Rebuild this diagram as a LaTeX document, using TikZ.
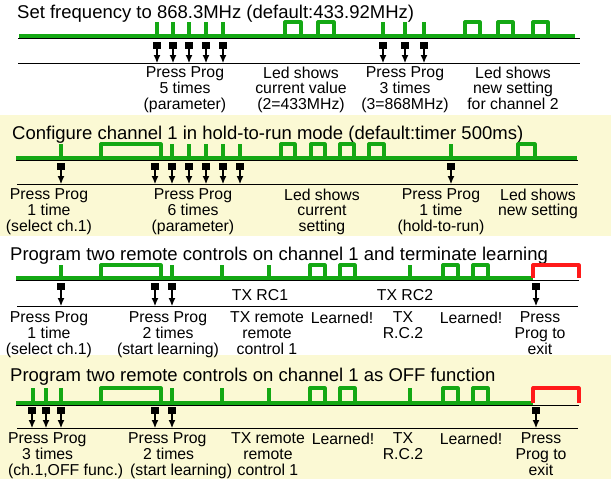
\documentclass[tikz,border=0pt]{standalone}
\usepackage{fontspec}
\setmainfont{Liberation Sans}
\usetikzlibrary{arrows.meta}
\definecolor{SignalGreen}{HTML}{14A814}
\definecolor{ExitRed}{HTML}{FF1A1A}
\definecolor{PanelYellow}{HTML}{FBF9D4}
\newcommand{\titlefont}{\fontsize{18.5}{20}\selectfont}
\newcommand{\notefont}{\fontsize{15.8}{15.7}\selectfont}

\begin{document}
\begin{tikzpicture}[x=1pt, y=-1pt,
    signal/.style={SignalGreen, line width=3.2pt, line join=round},
    exitsignal/.style={ExitRed, line width=3.2pt, line join=round},
    rail/.style={black, line width=1pt},
    button/.style={fill=black, inner sep=0pt, minimum width=7.5pt, minimum height=7pt},
    press/.style={-{Latex[length=8pt, width=7pt]}, line width=1.1pt},
    note/.style={font=\notefont, align=center, anchor=north, inner sep=0pt},
    leftnote/.style={font=\notefont, align=left, anchor=north west, inner sep=0pt},
    heading/.style={font=\titlefont, anchor=base west, inner sep=0pt}]

\useasboundingbox (0,0) rectangle (611,479);
\fill[PanelYellow] (0,115) rectangle (611,236);
\fill[PanelYellow] (0,355) rectangle (611,479);

\node[heading] (titleA) at (17,18) {Set frequency to 868.3MHz (default:433.92MHz)};
\draw[rail] (18,38) -- (580,38);
\draw[rail] (18,63) -- (580,63);
\draw[signal] (19,36) -- (575,36);
\foreach \x in {157,173,189,206,223,383,405,424}
    \draw[signal] (\x,36) -- (\x,22);
\foreach \x/\w in {285/16,318/16,465/15,498/15,533/15}
    \draw[signal] (\x,36) |- (\x+\w,22) -- (\x+\w,36);
\foreach \x [count=\i] in {157,173,189,206,223,383,405,424} {
    \node[button] (btnA\i) at (\x,45.5) {};
    \coordinate (railA\i) at (\x,63);
    \draw[press] (btnA\i) -- (railA\i);
}
\node[note] (noteA1) at (185,66.6) {Press Prog\\5 times\\(parameter)};
\node[note] (noteA2) at (301,66.6) {Led shows\\current value\\(2=433MHz)};
\node[note] (noteA3) at (405,66.6) {Press Prog\\3 times\\(3=868MHz)};
\node[note] (noteA4) at (513,66.6) {Led shows\\new setting\\for channel 2};

\node[heading] (titleB) at (12,139.5) {Configure channel 1 in hold-to-run mode (default:timer 500ms)};
\draw[rail] (16,160) -- (578,160);
\draw[rail] (17,184) -- (578,184);
\draw[signal] (16,158) -- (577,158);
\foreach \x in {61,172,189,206,223,240,451}
    \draw[signal] (\x,158) -- (\x,144);
\foreach \x/\w in {101/60,281/14,311/14,340/14,369/15,518/17}
    \draw[signal] (\x,158) |- (\x+\w,144) -- (\x+\w,158);
\foreach \x [count=\i] in {61,155,172,189,206,223,240,451} {
    \node[button] (btnB\i) at (\x,166.5) {};
    \coordinate (railB\i) at (\x,184);
    \draw[press] (btnB\i) -- (railB\i);
}
\node[note] (noteB1) at (49,188.6) {Press Prog\\1 time\\(select ch.1)};
\node[note] (noteB2) at (193,188.6) {Press Prog\\6 times\\(parameter)};
\node[note] (noteB3) at (322,188.6) {Led shows\\current\\setting};
\node[note] (noteB4) at (441,188.6) {Press Prog\\1 time\\(hold-to-run)};
\node[note] (noteB5) at (538,188.6) {Led shows\\new setting};

\node[heading] (titleC) at (10,260) {Program two remote controls on channel 1 and terminate learning};
\draw[rail] (16,280) -- (579,280);
\draw[rail] (17,306) -- (578,306);
\draw[signal] (16,278) -- (533,278);
\foreach \x in {61,172,222,269,410}
    \draw[signal] (\x,278) -- (\x,265);
\foreach \x/\w in {101/60,310/15,340/15,443/15,473/15}
    \draw[signal] (\x,278) |- (\x+\w,265) -- (\x+\w,278);
\draw[exitsignal] (533,278) |- (579,265) -- (579,278);
\foreach \x [count=\i] in {61,155,172,536} {
    \node[button] (btnC\i) at (\x,286.5) {};
    \coordinate (railC\i) at (\x,306);
    \draw[press] (btnC\i) -- (railC\i);
}
\node[font=\notefont, anchor=base] (txC1) at (260,300) {TX RC1};
\node[font=\notefont, anchor=base] (txC2) at (405,300) {TX RC2};
\node[note] (noteC1) at (49,311.6) {Press Prog\\1 time\\(select ch.1)};
\node[note] (noteC2) at (168,311.6) {Press Prog\\2 times\\(start learning)};
\node[note] (noteC3) at (267,311.6) {TX remote\\remote\\control 1};
\node[note] (noteC4) at (342,311.6) {Learned!};
\node[note] (noteC5) at (403,311.6) {TX\\R.C.2};
\node[note] (noteC6) at (471,311.6) {Learned!};
\node[note] (noteC7) at (540,311.6) {Press\\Prog to\\exit};

\node[heading] (titleD) at (10,381) {Program two remote controls on channel 1 as OFF function};
\draw[rail] (16,405) -- (579,405);
\draw[rail] (17,428) -- (578,428);
\draw[signal] (16,403) -- (533,403);
\foreach \x in {33,46,61,172,222,269,410}
    \draw[signal] (\x,403) -- (\x,388);
\foreach \x/\w in {101/60,310/15,340/15,443/15,473/15}
    \draw[signal] (\x,403) |- (\x+\w,388) -- (\x+\w,403);
\draw[exitsignal] (533,403) |- (579,388) -- (579,403);
\foreach \x [count=\i] in {32,46,61,155,172,536} {
    \node[button] (btnD\i) at (\x,410.5) {};
    \coordinate (railD\i) at (\x,428);
    \draw[press] (btnD\i) -- (railD\i);
}
\node[leftnote] (noteD1) at (8,432.6) {Press Prog\\\hspace*{14pt}3 times\\(ch.1,OFF func.)};
\node[leftnote] (noteD2) at (128,432.6) {Press Prog\\\hspace*{15pt}2 times\\\hspace*{2pt}(start learning)};
\node[note] (noteD3) at (268,432.6) {TX remote\\remote\\control 1};
\node[note] (noteD4) at (343,432.6) {Learned!};
\node[note] (noteD5) at (403,432.6) {TX\\R.C.2};
\node[note] (noteD6) at (471,432.6) {Learned!};
\node[note] (noteD7) at (541,432.6) {Press\\Prog to\\exit};
\end{tikzpicture}
\end{document}
